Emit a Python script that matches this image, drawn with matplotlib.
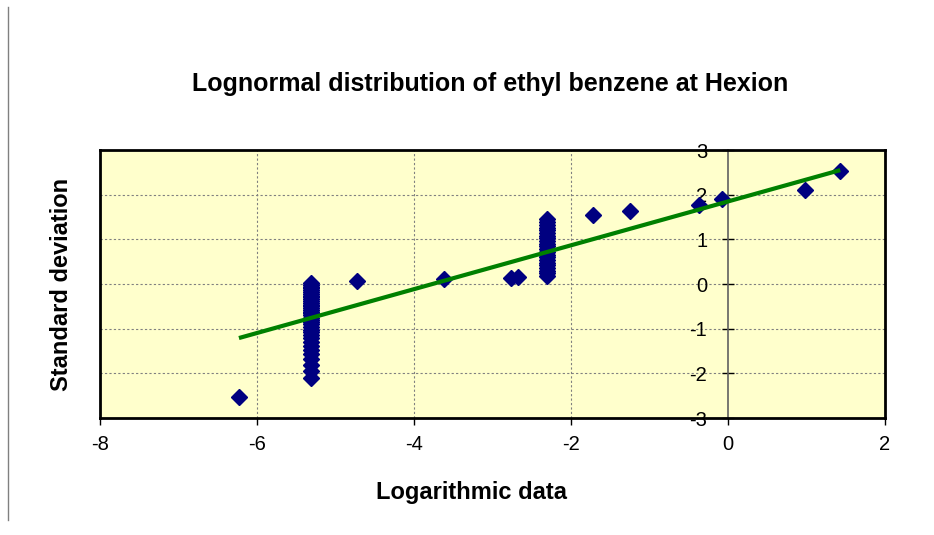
import matplotlib.pyplot as plt
from matplotlib.lines import Line2D

plt.rcParams['font.family'] = ['Liberation Sans', 'DejaVu Sans']

# scattered single points (log value, standard deviation)
single_x = [-6.23, -4.72, -3.62, -2.76, -2.67, -1.72, -1.25, -0.37, -0.08, 0.98, 1.43]
single_y = [-2.53, 0.07, 0.11, 0.13, 0.15, 1.54, 1.63, 1.77, 1.90, 2.10, 2.53]

# stacked column of non-detects at one log value
col1_x = -5.31
col1_y = [0.02, -0.02, -0.06, -0.10, -0.14, -0.18, -0.22, -0.26, -0.30, -0.34,
          -0.38, -0.42, -0.46, -0.50, -0.54, -0.58, -0.62, -0.66, -0.70, -0.75,
          -0.80, -0.85, -0.90, -0.96, -1.02, -1.08, -1.15, -1.22, -1.30, -1.38,
          -1.47, -1.57, -1.68, -1.82, -1.95, -2.10]

# second column
col2_x = -2.31
col2_y = [0.18, 0.24, 0.30, 0.36, 0.42, 0.48, 0.54, 0.60, 0.66, 0.72, 0.78,
          0.84, 0.90, 0.96, 1.02, 1.08, 1.14, 1.20, 1.26, 1.32, 1.38, 1.45]

# linear trend line end points
trend_x = [-6.23, 1.43]
trend_y = [-1.21, 2.55]

fig = plt.figure(figsize=(9.34, 5.35), dpi=100)
ax = fig.add_axes([100 / 934, 1 - 418 / 535, 785 / 934, 268 / 535])
ax.set_facecolor('#FFFFCC')

xs = single_x + [col1_x] * len(col1_y) + [col2_x] * len(col2_y)
ys = single_y + col1_y + col2_y
ax.plot(xs, ys, 'D', color='#000080', markersize=8, zorder=3)
ax.plot(trend_x, trend_y, color='#008000', linewidth=3, solid_capstyle='butt', zorder=4)

ax.set_xlim(-8, 2)
ax.set_ylim(-3, 3)
ax.set_xticks([-8, -6, -4, -2, 0, 2])
ax.set_yticks([-3, -2, -1, 0, 1, 2, 3])
ax.set_xticklabels(['-8', '-6', '-4', '-2', '0', '2'])
ax.set_yticklabels(['-3', '-2', '-1', '0', '1', '2', '3'])

# grid lines
for gy in [-2, -1, 0, 1, 2]:
    ax.axhline(gy, color='#808080', linewidth=0.8, linestyle=(0, (2, 2)), zorder=1)
for gx in [-6, -4, -2]:
    ax.axvline(gx, color='#808080', linewidth=0.8, linestyle=(0, (2, 2)), zorder=1)

# y axis crosses at x = 0
ax.spines['left'].set_position(('data', 0))
ax.spines['left'].set_color('#606060')
ax.spines['left'].set_linewidth(1.2)
ax.spines['left'].set_zorder(2)
for side in ['top', 'right', 'bottom']:
    ax.spines[side].set_color('black')
    ax.spines[side].set_linewidth(2)
ax.add_line(Line2D([-8, -8], [-3, 3], color='black', linewidth=2, clip_on=False, zorder=5))

ax.tick_params(axis='x', direction='out', length=5, width=1, labelsize=14.5, pad=7)
ax.tick_params(axis='y', direction='inout', length=8, width=1, labelsize=14.5, pad=11)

fig.text(0.525, 1 - 84 / 535, 'Lognormal distribution of ethyl benzene at Hexion',
         ha='center', va='center', fontsize=18, fontweight='bold')
fig.text(471 / 934, 1 - 492 / 535, 'Logarithmic data',
         ha='center', va='center', fontsize=17, fontweight='bold')
fig.text(62 / 934, 1 - 284 / 535, 'Standard deviation', rotation=90,
         ha='center', va='center', fontsize=17, fontweight='bold')

# page border line on the left
fig.add_artist(Line2D([8 / 934, 8 / 934], [1 - 520 / 535, 1 - 7 / 535],
                      color='#808080', linewidth=1))

fig.savefig('out.png', dpi=100)
